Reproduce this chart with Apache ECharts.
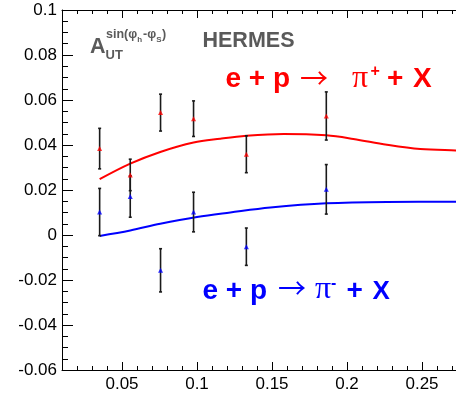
<!DOCTYPE html>
<html>
<head>
<meta charset="utf-8">
<script src="https://cdn.jsdelivr.net/npm/echarts@6/dist/echarts.min.js"></script>
<style>
  html, body { margin: 0; padding: 0; background: #ffffff; }
  #chart { width: 456px; height: 393px; }
</style>
</head>
<body>
<div id="chart"></div>
<script>
// Bin centres (x) of the measured asymmetry
const xBins = [0.0351, 0.0555, 0.0757, 0.0977, 0.1329, 0.1862];

// pi+ asymmetry and its uncertainty
const piPlusA   = [0.0384, 0.0267, 0.0544, 0.0517, 0.0359, 0.0529];
const piPlusErr = [0.0090, 0.0070, 0.0082, 0.0079, 0.0082, 0.0107];

// pi- asymmetry and its uncertainty
const piMinusA   = [0.0102, 0.0171, -0.0157, 0.0102, -0.0052, 0.0203];
const piMinusErr = [0.0105, 0.0092, 0.0096, 0.0088, 0.0083, 0.0110];

// Model curves
const piPlusCurveX = [0.0351, 0.0555, 0.0755, 0.0977, 0.1155, 0.1329, 0.1578, 0.1862, 0.2042, 0.2266, 0.2488, 0.2725, 0.2800];
const piPlusCurveY = [0.0248, 0.0317, 0.0369, 0.0411, 0.0428, 0.0441, 0.0449, 0.0443, 0.0427, 0.0401, 0.0382, 0.0376, 0.0375];
const piMinusCurveX = [0.0351, 0.0555, 0.0755, 0.1000, 0.1222, 0.1489, 0.1862, 0.2267, 0.2800];
const piMinusCurveY = [-0.0004, 0.0020, 0.0050, 0.0080, 0.0100, 0.0122, 0.0141, 0.0147, 0.0148];

// Axis ticks and labels
const xMajorTicks = [0.05, 0.10, 0.15, 0.20, 0.25];
const xTickLabels = ['0.05', '0.1', '0.15', '0.2', '0.25'];
const yTickValues = [-0.06, -0.04, -0.02, 0, 0.02, 0.04, 0.06, 0.08, 0.1];
const yTickLabels = ['-0.06', '-0.04', '-0.02', '0', '0.02', '0.04', '0.06', '0.08', '0.1'];

const X_MIN = 0.01, X_MAX = 0.28;
const Y_MIN = -0.06, Y_MAX = 0.1;

const SANS = '"Liberation Sans", Arial, Helvetica, sans-serif';
const SERIF = '"Liberation Serif", "DejaVu Serif", serif';
const ARROW_FONT = '"Noto Sans CJK JP", "Noto Sans CJK SC", sans-serif';
const GRAY = '#5a5a5a';
const RED = '#ff0000';
const BLUE = '#0000ff';

const zip = (xs, ys) => xs.map((x, i) => [x, ys[i]]);
const withErr = (xs, ys, es) => xs.map((x, i) => [x, ys[i], es[i]]);

// Text helpers: place a text run by its baseline
const measure = document.createElement('canvas').getContext('2d');
function fontStr(size, bold, family) {
  return (bold ? 'bold ' : '') + size + 'px ' + family;
}
function txt(t, x, baseline, size, bold, family, color) {
  return {
    type: 'text', z: 50, silent: true,
    style: {
      text: t, x: x, y: baseline - 0.35 * size,
      font: fontStr(size, bold, family), fill: color,
      textAlign: 'left', textVerticalAlign: 'middle'
    }
  };
}
// Thin arrow glyph, placed by its vertical centre
function arrow(x, midY, size, stretch, color) {
  return {
    type: 'text', z: 50, silent: true,
    x: x, y: midY, scaleX: stretch, scaleY: 1,
    style: {
      text: '→', x: 0, y: 0,
      font: fontStr(size, false, ARROW_FONT), fill: color,
      textAlign: 'left', textVerticalAlign: 'middle'
    }
  };
}
// Sequential run of pieces (for sub/superscripts)
function run(x, baseline, parts, color) {
  const out = [];
  let cx = x;
  parts.forEach(p => {
    const f = fontStr(p.size, p.bold, p.family || SANS);
    measure.font = f;
    out.push(txt(p.t, cx, baseline + (p.dy || 0), p.size, p.bold, p.family || SANS, color));
    cx += measure.measureText(p.t).width + (p.gap || 0);
  });
  return out;
}

const graphics = [].concat(
  // A_UT^{sin(phi_h - phi_S)}
  [txt('A', 90, 55, 21.5, true, SANS, GRAY),
   txt('UT', 105.5, 59.5, 13, true, SANS, GRAY)],
  run(106, 38.5, [
    { t: 'sin(', size: 12.5, bold: true },
    { t: 'φ', size: 12.5, bold: true },
    { t: 'h', size: 8, bold: true, dy: 4, gap: 1 },
    { t: '-', size: 12.5, bold: true },
    { t: 'φ', size: 12.5, bold: true },
    { t: 'S', size: 8, bold: true, dy: 4, gap: 0.5 },
    { t: ')', size: 12.5, bold: true }
  ], GRAY),
  [txt('HERMES', 202.5, 48.5, 21.5, true, SANS, GRAY)],
  // e + p -> pi+ + X
  [txt('e + p', 225.5, 89.5, 28, true, SANS, RED),
   arrow(300, 78, 28, 1.0, RED),
   txt('π', 352, 89.5, 32, false, SERIF, RED),
   txt('+', 370.5, 77, 16, true, SANS, RED),
   txt('+', 387, 89.5, 28, true, SANS, RED),
   txt('X', 413, 89.5, 28, true, SANS, RED)],
  // e + p -> pi- + X
  [txt('e + p', 202.5, 301, 28, true, SANS, BLUE),
   arrow(278, 288, 28, 1.0, BLUE),
   txt('π', 315, 301, 32, false, SERIF, BLUE),
   txt('-', 331, 289, 16, true, SANS, BLUE),
   txt('+', 346.5, 301, 28, true, SANS, BLUE),
   txt('X', 372.5, 301, 26, true, SANS, BLUE)]
);

function errorBars(color) {
  return function (params, api) {
    const x = api.value(0), y = api.value(1), e = api.value(2);
    const top = api.coord([x, y + e]);
    const bot = api.coord([x, y - e]);
    const st = { stroke: color, lineWidth: 1.6 };
    return {
      type: 'group',
      children: [
        { type: 'line', shape: { x1: top[0], y1: top[1], x2: bot[0], y2: bot[1] }, style: st },
        { type: 'line', shape: { x1: top[0] - 1.5, y1: top[1], x2: top[0] + 1.5, y2: top[1] }, style: st },
        { type: 'line', shape: { x1: bot[0] - 1.5, y1: bot[1], x2: bot[0] + 1.5, y2: bot[1] }, style: st }
      ]
    };
  };
}

const tickLine = { color: '#000', width: 1 };
const frameLine = { show: true, onZero: false, lineStyle: { color: '#000', width: 1 } };

const option = {
  animation: false,
  backgroundColor: '#ffffff',
  grid: { left: 62, top: 10, width: 405, height: 360, containLabel: false, outerBoundsMode: 'none' },
  xAxis: [
    { // bottom, major ticks + labels
      type: 'value', position: 'bottom', min: X_MIN, max: X_MAX,
      axisLine: frameLine,
      axisTick: { show: true, inside: true, length: 8, customValues: xMajorTicks, lineStyle: tickLine },
      axisLabel: {
        show: true, customValues: xMajorTicks, margin: 6,
        fontFamily: SANS, fontSize: 17, color: '#000',
        formatter: v => {
          const i = xMajorTicks.findIndex(m => Math.abs(m - v) < 1e-6);
          return i >= 0 ? xTickLabels[i] : '';
        }
      },
      splitLine: { show: false }
    },
    { // bottom, minor ticks
      type: 'value', position: 'bottom', min: X_MIN, max: X_MAX, interval: 0.01,
      axisLine: { show: false, onZero: false },
      axisTick: { show: true, inside: true, length: 4, lineStyle: tickLine },
      axisLabel: { show: false }, splitLine: { show: false }
    },
    { // top frame, major ticks
      type: 'value', position: 'top', min: X_MIN, max: X_MAX,
      axisLine: frameLine,
      axisTick: { show: true, inside: true, length: 8, customValues: xMajorTicks, lineStyle: tickLine },
      axisLabel: { show: false }, splitLine: { show: false }
    },
    { // top frame, minor ticks
      type: 'value', position: 'top', min: X_MIN, max: X_MAX, interval: 0.01,
      axisLine: { show: false, onZero: false },
      axisTick: { show: true, inside: true, length: 4, lineStyle: tickLine },
      axisLabel: { show: false }, splitLine: { show: false }
    }
  ],
  yAxis: [
    { // left, with labels
      type: 'value', position: 'left', min: Y_MIN, max: Y_MAX, interval: 0.02,
      axisLine: frameLine,
      axisTick: { show: true, inside: true, length: 11, lineStyle: tickLine },
      minorTick: { show: true, splitNumber: 4, length: 6, lineStyle: tickLine },
      axisLabel: {
        show: true, margin: 5, fontFamily: SANS, fontSize: 17, color: '#000',
        formatter: v => {
          const i = yTickValues.findIndex(m => Math.abs(m - v) < 1e-6);
          return i >= 0 ? yTickLabels[i] : '';
        }
      },
      splitLine: { show: false }
    },
    { // right frame
      type: 'value', position: 'right', min: Y_MIN, max: Y_MAX, interval: 0.02,
      axisLine: frameLine,
      axisTick: { show: true, inside: true, length: 11, lineStyle: tickLine },
      minorTick: { show: true, splitNumber: 4, length: 6, lineStyle: tickLine },
      axisLabel: { show: false }, splitLine: { show: false }
    }
  ],
  series: [
    {
      name: 'pi+ model', type: 'line', smooth: 0.35, showSymbol: false, z: 2,
      data: zip(piPlusCurveX, piPlusCurveY),
      lineStyle: { color: RED, width: 2 }, itemStyle: { color: RED }
    },
    {
      name: 'pi- model', type: 'line', smooth: 0.35, showSymbol: false, z: 2,
      data: zip(piMinusCurveX, piMinusCurveY),
      lineStyle: { color: BLUE, width: 2 }, itemStyle: { color: BLUE }
    },
    {
      name: 'pi+ errors', type: 'custom', z: 3,
      renderItem: errorBars('#1a1a1a'),
      encode: { x: 0, y: 1 },
      data: withErr(xBins, piPlusA, piPlusErr)
    },
    {
      name: 'pi- errors', type: 'custom', z: 3,
      renderItem: errorBars('#1a1a1a'),
      encode: { x: 0, y: 1 },
      data: withErr(xBins, piMinusA, piMinusErr)
    },
    {
      name: 'pi+', type: 'scatter', symbol: 'triangle', symbolSize: 5, z: 4,
      data: zip(xBins, piPlusA), itemStyle: { color: RED }
    },
    {
      name: 'pi-', type: 'scatter', symbol: 'triangle', symbolSize: 5, z: 4,
      data: zip(xBins, piMinusA), itemStyle: { color: BLUE }
    }
  ],
  graphic: graphics
};

const chart = echarts.init(document.getElementById('chart'), null, { renderer: 'canvas' });
chart.setOption(option);
</script>
</body>
</html>
